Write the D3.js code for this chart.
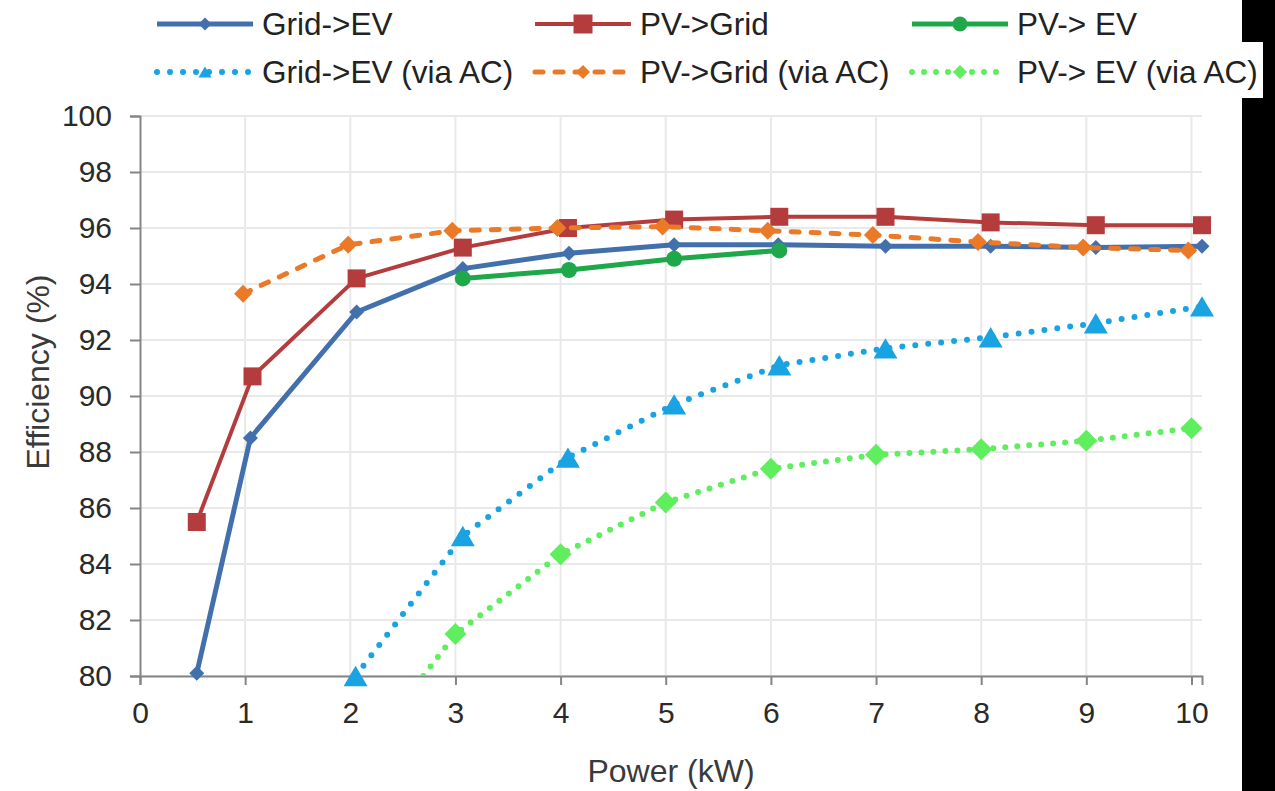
<!DOCTYPE html>
<html>
<head>
<meta charset="utf-8">
<script src="https://cdn.jsdelivr.net/npm/d3@7"></script>
<style>
  html, body { margin: 0; padding: 0; background: #ffffff; }
  svg { display: block; font-family: "Liberation Sans", Arial, sans-serif; }
</style>
</head>
<body>
<svg id="chart" width="1275" height="791"></svg>
<script>
// ---- data ----
const seriesNames = ["Grid->EV", "PV->Grid", "PV-> EV", "Grid->EV (via AC)", "PV->Grid (via AC)", "PV-> EV (via AC)"];

const gridEV_x = [0.54, 1.05, 2.06, 3.07, 4.08, 5.08, 6.07, 7.09, 8.09, 9.09, 10.1];
const gridEV_y = [80.1, 88.5, 93.0, 94.55, 95.1, 95.4, 95.4, 95.35, 95.35, 95.3, 95.35];

const pvGrid_x = [0.54, 1.07, 2.06, 3.07, 4.07, 5.08, 6.08, 7.09, 8.09, 9.09, 10.1];
const pvGrid_y = [85.5, 90.7, 94.2, 95.3, 96.0, 96.3, 96.4, 96.4, 96.2, 96.1, 96.1];

const pvEV_x = [3.07, 4.08, 5.08, 6.08];
const pvEV_y = [94.2, 94.5, 94.9, 95.2];

const gridEVac_x = [2.05, 3.07, 4.07, 5.08, 6.08, 7.09, 8.09, 9.09, 10.1];
const gridEVac_y = [80.0, 85.0, 87.8, 89.7, 91.1, 91.7, 92.1, 92.6, 93.2];

const pvGridAC_x = [0.98, 1.98, 2.97, 3.97, 4.97, 5.97, 6.97, 7.97, 8.97, 9.97];
const pvGridAC_y = [93.65, 95.4, 95.9, 96.0, 96.05, 95.9, 95.75, 95.5, 95.3, 95.2];

const pvEVac_x = [2.0, 3.0, 4.0, 5.0, 6.0, 7.0, 8.0, 9.0, 10.0];
const pvEVac_y = [76.6, 81.5, 84.35, 86.2, 87.4, 87.9, 88.1, 88.4, 88.85];

const xTicks = [0, 1, 2, 3, 4, 5, 6, 7, 8, 9, 10];
const yTicks = [80, 82, 84, 86, 88, 90, 92, 94, 96, 98, 100];

const xTitle = "Power (kW)";
const yTitle = "Efficiency (%)";

// ---- styles ----
const styles = [
  { color: "#4270ad", width: 5, dash: null, cap: "butt", marker: "diamond", size: 15, legSize: 13 },
  { color: "#b43c3c", width: 4, dash: null, cap: "butt", marker: "square", size: 18, legSize: 19 },
  { color: "#1fa84a", width: 5, dash: null, cap: "butt", marker: "circle", size: 16, legSize: 15 },
  { color: "#1aa3e2", width: 6, dash: "0,13", cap: "round", marker: "triangle", size: 24, legSize: 13 },
  { color: "#ea7a28", width: 5, dash: "8,12", cap: "round", marker: "diamond", size: 18, legSize: 14 },
  { color: "#5eee5e", width: 6, dash: "0,12", cap: "round", marker: "diamond", size: 22, legSize: 14 }
];

const seriesX = [gridEV_x, pvGrid_x, pvEV_x, gridEVac_x, pvGridAC_x, pvEVac_x];
const seriesY = [gridEV_y, pvGrid_y, pvEV_y, gridEVac_y, pvGridAC_y, pvEVac_y];

const svg = d3.select("#chart");

const pLeft = 140, pRight = 1202, pTop = 116, pBottom = 676;
const x = d3.scaleLinear().domain([0, 10.1]).range([pLeft, pRight]);
const y = d3.scaleLinear().domain([80, 100]).range([pBottom, pTop]);

// black strip on the right edge
svg.append("rect").attr("x", 1242).attr("y", 0).attr("width", 33).attr("height", 791).attr("fill", "#000");
svg.append("rect").attr("x", 1242).attr("y", 42).attr("width", 21).attr("height", 56).attr("fill", "#fff");

// gridlines
const grid = svg.append("g");
grid.selectAll(".hg").data(yTicks).enter().append("line")
  .attr("x1", pLeft).attr("x2", pRight)
  .attr("y1", d => y(d)).attr("y2", d => y(d))
  .attr("stroke", "#e9e9e9").attr("stroke-width", 2);
grid.selectAll(".vg").data(xTicks.filter(d => d > 0)).enter().append("line")
  .attr("x1", d => x(d)).attr("x2", d => x(d))
  .attr("y1", pTop).attr("y2", pBottom)
  .attr("stroke", "#e9e9e9").attr("stroke-width", 2);

// axes
const axisColor = "#858585";
const fontSize = 30;
const xAxis = svg.append("g").attr("transform", `translate(0,${pBottom})`)
  .call(d3.axisBottom(x).tickValues(xTicks).tickSize(9).tickPadding(17).tickFormat(d3.format("d")));
const yAxis = svg.append("g").attr("transform", `translate(${pLeft},0)`)
  .call(d3.axisLeft(y).tickValues(yTicks).tickSize(10).tickPadding(18).tickFormat(d3.format("d")));
[xAxis, yAxis].forEach(a => {
  a.select(".domain").attr("stroke", axisColor).attr("stroke-width", 2);
  a.selectAll(".tick line").attr("stroke", axisColor).attr("stroke-width", 2);
  a.selectAll(".tick text").attr("fill", "#2a2a2a").attr("font-size", fontSize)
    .attr("font-family", "Liberation Sans, Arial, sans-serif");
});

// axis titles
svg.append("text").attr("x", (pLeft + pRight) / 2).attr("y", 782)
  .attr("text-anchor", "middle").attr("font-size", 32).attr("fill", "#3a3a3a").text(xTitle);
svg.append("text").attr("transform", `translate(49,372) rotate(-90)`)
  .attr("text-anchor", "middle").attr("font-size", 32).attr("fill", "#3a3a3a").text(yTitle);

// markers
function markerPath(type, s) {
  const h = s / 2;
  if (type === "diamond") return `M0,${-h}L${h},0L0,${h}L${-h},0Z`;
  if (type === "square") return `M${-h},${-h}H${h}V${h}H${-h}Z`;
  if (type === "triangle") { const th = s * 0.85; return `M0,${-th/2}L${h},${th/2}L${-h},${th/2}Z`; }
  if (type === "circle") return `M${-h},0A${h},${h} 0 1,0 ${h},0A${h},${h} 0 1,0 ${-h},0Z`;
}

// clip for lines
svg.append("clipPath").attr("id", "plotclip").append("rect")
  .attr("x", pLeft).attr("y", pTop - 20).attr("width", pRight - pLeft + 20).attr("height", pBottom - pTop + 20);

const line = d3.line().x(d => x(d[0])).y(d => y(d[1]));

seriesX.forEach((xs, i) => {
  const st = styles[i];
  const pts = xs.map((v, j) => [v, seriesY[i][j]]);
  const g = svg.append("g");
  g.append("path").datum(pts)
    .attr("d", line)
    .attr("clip-path", "url(#plotclip)")
    .attr("fill", "none")
    .attr("stroke", st.color)
    .attr("stroke-width", st.width)
    .attr("stroke-linecap", st.cap)
    .attr("stroke-linejoin", "round")
    .attr("stroke-dasharray", st.dash);
  g.selectAll("path.m").data(pts.filter(p => p[1] >= 80 && p[1] <= 100)).enter().append("path")
    .attr("class", "m")
    .attr("transform", p => `translate(${x(p[0])},${y(p[1])})`)
    .attr("d", markerPath(st.marker, st.size))
    .attr("fill", st.color);
});

// legend
const legCols = [157, 535, 912];
const legRows = [24, 72];
seriesNames.forEach((name, i) => {
  const st = styles[i];
  const cx = legCols[i % 3];
  const cy = legRows[Math.floor(i / 3)];
  const g = svg.append("g").attr("transform", `translate(${cx},${cy})`);
  g.append("line").attr("x1", 0).attr("x2", 96).attr("y1", 0).attr("y2", 0)
    .attr("stroke", st.color).attr("stroke-width", st.width)
    .attr("stroke-linecap", st.cap).attr("stroke-dasharray", st.dash);
  g.append("path").attr("transform", "translate(48,0)")
    .attr("d", markerPath(st.marker, st.legSize)).attr("fill", st.color);
  g.append("text").attr("x", 105).attr("y", 0).attr("dy", "0.36em")
    .attr("font-size", 31.5).attr("fill", "#222").text(name);
});
</script>
</body>
</html>
